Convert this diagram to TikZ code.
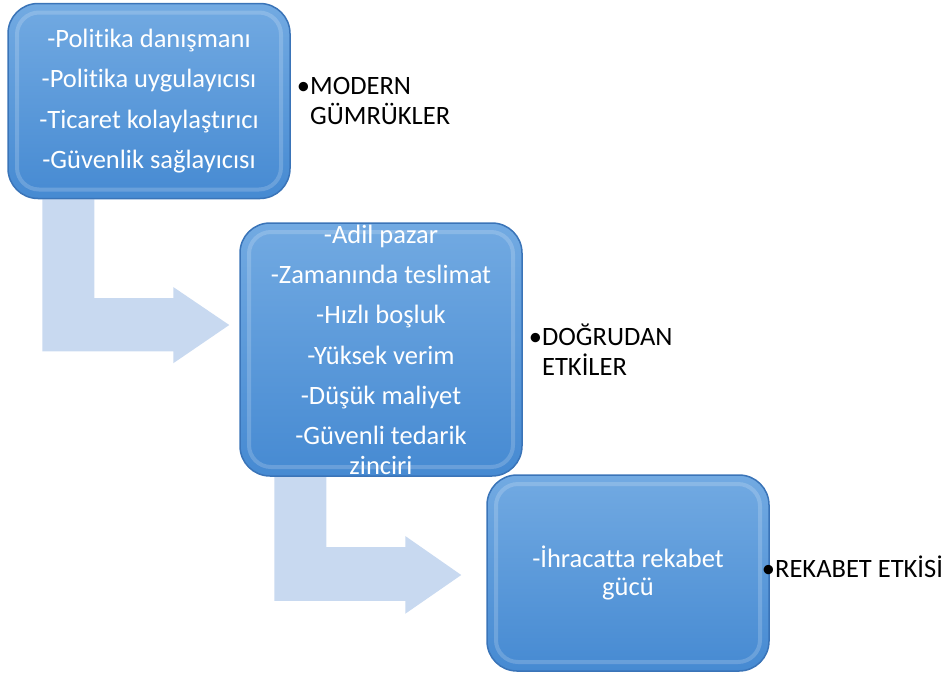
\documentclass[tikz,border=0pt]{standalone}
\usepackage{fontspec}
\setmainfont{Carlito}[Ligatures=NoCommon]
\usetikzlibrary{positioning,backgrounds}

\definecolor{kutuust}{RGB}{114,170,226}
\definecolor{kutualt}{RGB}{70,138,210}
\definecolor{kutukenar}{RGB}{58,116,184}
\definecolor{okrengi}{RGB}{200,217,240}

\tikzset{
  kutu/.style={rounded corners=30pt, draw=kutukenar, line width=1.5pt,
    top color=kutuust, bottom color=kutualt,
    minimum width=282pt, minimum height=195pt, inner sep=0pt,
    path picture={\draw[white, opacity=0.18, line width=4pt, rounded corners=22pt]
      ([shift={(9,9)}]path picture bounding box.north west) rectangle
      ([shift={(-9,-9)}]path picture bounding box.south east);}},
  kutuyazi/.style={text=white, align=center, font=\fontsize{26.5}{40.3}\selectfont},
  etiket/.style={align=left, inner sep=0pt, font=\fontsize{26.5}{30}\selectfont}
}

\begin{document}
\begin{tikzpicture}[x=1pt, y=-1pt]
    \useasboundingbox (0,0) rectangle (949,672);

    % Kutular
    \node[kutu] (kutu1) at (149,101) {};
    \node[kutu, minimum height=253pt] (kutu2) at (381,349.5) {};
    \node[kutu, minimum height=196pt] (kutu3) at (628,573) {};

    % Kutu yazilari
    \node[kutuyazi] (yazi1) at (kutu1) {-Politika danışmanı\\-Politika uygulayıcısı\\-Ticaret kolaylaştırıcı\\-Güvenlik sağlayıcısı};
    \node[kutuyazi] (yazi2) at (kutu2) {-Adil pazar\\-Zamanında teslimat\\-Hızlı boşluk\\-Yüksek verim\\-Düşük maliyet\\-Güvenli tedarik\\[-11pt]zinciri};
    \node[kutuyazi] (yazi3) at (kutu3) {-İhracatta rekabet\\[-12pt]gücü};

    % Etiketler
    \node[etiket, right=6pt of kutu1] (etiket1) {•MODERN\\\hphantom{•}GÜMRÜKLER};
    \node[etiket, right=6pt of kutu2] (etiket2) {•DOĞRUDAN\\\hphantom{•}ETKİLER};
    \node[etiket, right=-8pt of kutu3, yshift=6pt] (etiket3) {•REKABET ETKİSİ};

    % Oklar
    \begin{scope}[on background layer]
    % kutu1 -> kutu2
    \coordinate (uc1) at ([shift={(-10,-24.5)}]kutu2.west);
    \fill[okrengi] ([xshift=35pt]kutu1.south west) -- ++(0,152) -- ++(131,0) -- ++(0,12)
        -- (uc1) -- ++(-56,-38) -- ++(0,11) -- ++(-79,0) -- ([xshift=87pt]kutu1.south west) -- cycle;
    % kutu2 -> kutu3
    \coordinate (uc2) at ([shift={(-25,2)}]kutu3.west);
    \fill[okrengi] ([xshift=35pt]kutu2.south west) -- ++(0,124) -- ++(131,0) -- ++(0,13)
        -- (uc2) -- ++(-56,-39) -- ++(0,11) -- ++(-79,0) -- ([xshift=87pt]kutu2.south west) -- cycle;
    \end{scope}
\end{tikzpicture}
\end{document}
